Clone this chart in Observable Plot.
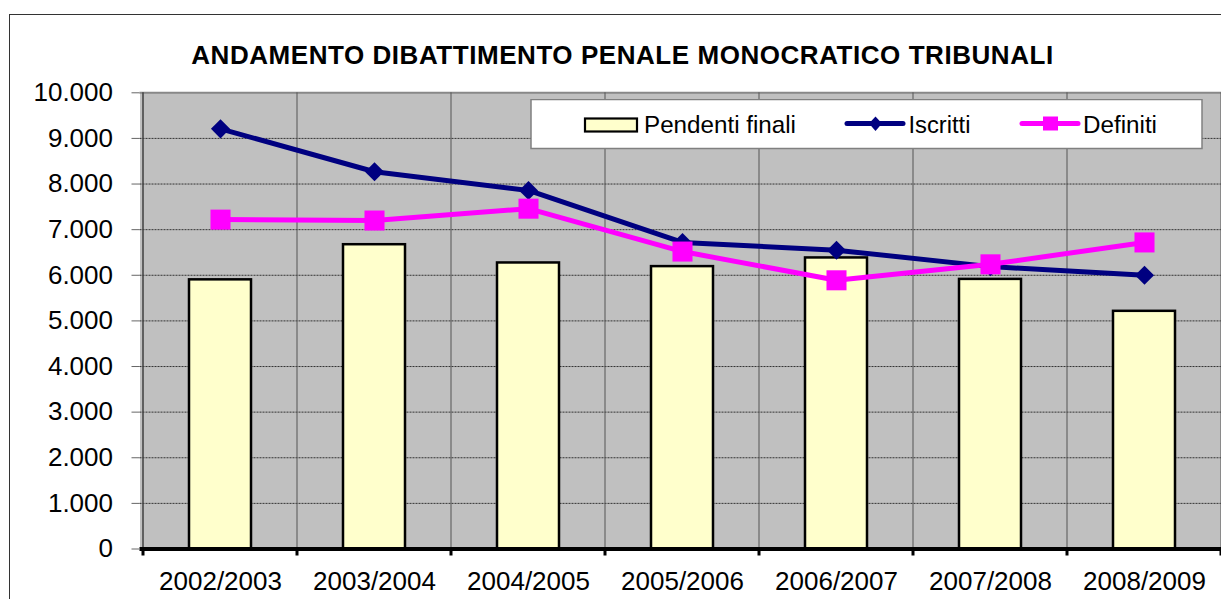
<!DOCTYPE html>
<html>
<head>
<meta charset="utf-8">
<script src="https://cdn.jsdelivr.net/npm/d3@7"></script>
<script src="https://cdn.jsdelivr.net/npm/@observablehq/plot@0.6"></script>
<style>
  html, body { margin: 0; padding: 0; background: #fff; }
  body { width: 1221px; height: 599px; overflow: hidden; position: relative; font-family: "Liberation Sans", Arial, sans-serif; }
  #frame { position: absolute; left: 9px; top: 14px; width: 1300px; height: 700px; border: 1.5px solid #333; box-sizing: border-box; }
  #title { position: absolute; left: 0; top: 42px; width: 1245px; text-align: center; font-weight: bold; font-size: 26px; line-height: 26px; letter-spacing: 0.55px; color: #000; }
  #chart { position: absolute; left: 0; top: 0; width: 1230px; }
  #legend { position: absolute; left: 530px; top: 99px; }
</style>
</head>
<body>
<div id="frame"></div>
<div id="title">ANDAMENTO DIBATTIMENTO PENALE MONOCRATICO TRIBUNALI</div>
<div id="chart"></div>
<svg id="legend" width="673" height="51"></svg>
<script>
// ---- data ----
const categories = ["2002/2003", "2003/2004", "2004/2005", "2005/2006", "2006/2007", "2007/2008", "2008/2009"];
const pendentiFinali = [5900, 6670, 6270, 6190, 6380, 5910, 5210];
const iscritti = [9210, 8270, 7860, 6720, 6550, 6190, 6000];
const definiti = [7220, 7200, 7460, 6520, 5890, 6240, 6720];
const yTicks = [0, 1000, 2000, 3000, 4000, 5000, 6000, 7000, 8000, 9000, 10000];
const seriesNames = ["Pendenti finali", "Iscritti", "Definiti"];

// ---- tables ----
const rows = (vals) => categories.map((c, i) => ({cat: c, value: vals[i]}));
const barData = rows(pendentiFinali);
const iscrittiData = rows(iscritti);
const definitiData = rows(definiti);

const itLocale = d3.formatLocale({decimal: ",", thousands: ".", grouping: [3], currency: ["€", ""]});
const fmt = itLocale.format(",d");

// vertical grid at category boundaries + x tick marks, from the band scale
function boundaries(index, scales, values, dimensions) {
  const s = scales.x;
  const bw = typeof s.bandwidth === "function" ? s.bandwidth() : (s.bandwidth || 0);
  const step = s(categories[1]) - s(categories[0]);
  const xs = categories.map(c => s(c) - (step - bw) / 2);
  xs.push(s(categories[categories.length - 1]) + bw + (step - bw) / 2);
  const y0 = scales.y(0), y1 = scales.y(10000);
  const g = d3.create("svg:g");
  xs.forEach((x, i) => {
    g.append("line").attr("x1", x).attr("x2", x).attr("y1", y1).attr("y2", y0)
      .attr("stroke", i === 0 ? "#404040" : "#555").attr("stroke-width", i === 0 ? 1.5 : 1);
    g.append("line").attr("x1", x).attr("x2", x).attr("y1", y0).attr("y2", y0 + 7)
      .attr("stroke", "#000").attr("stroke-width", 3);
  });
  return g.node();
}

const chart = Plot.plot({
  width: 1230,
  height: 599,
  marginLeft: 139.5,
  marginRight: 6.5,
  marginTop: 92.3,
  marginBottom: 50.5,
  style: {fontFamily: "'Liberation Sans', Arial, sans-serif", fontSize: "26px", background: "transparent", overflow: "visible", color: "#000", maxWidth: "none", width: "1230px", height: "599px"},
  x: {domain: categories, paddingInner: 0.6, paddingOuter: 0.3, label: null},
  y: {domain: [0, 10000], label: null},
  marks: [
    Plot.frame({fill: "#c0c0c0", stroke: null}),
    Plot.ruleY(yTicks.filter(v => v > 0 && v < 10000), {stroke: "#333", strokeDasharray: "2,1", strokeWidth: 1}),
    Plot.ruleY([10000], {stroke: "#888", strokeWidth: 2}),
    boundaries,
    Plot.barY(barData, {x: "cat", y: "value", fill: "#FFFFCC", stroke: "#000", strokeWidth: 2.5}),
    Plot.line(iscrittiData, {x: "cat", y: "value", stroke: "#000080", strokeWidth: 5}),
    Plot.dot(iscrittiData, {x: "cat", y: "value", symbol: "diamond2", r: 8.6, fill: "#000080", stroke: null}),
    Plot.line(definitiData, {x: "cat", y: "value", stroke: "#FF00FF", strokeWidth: 5}),
    Plot.dot(definitiData, {x: "cat", y: "value", symbol: "square", r: 11.3, fill: "#FF00FF", stroke: null}),
    Plot.ruleY([0], {stroke: "#000", strokeWidth: 4}),
    Plot.axisY({ticks: yTicks, tickFormat: fmt, tickSize: 8, tickPadding: 19, stroke: "#666", fill: "#000"}),
    Plot.axisX({tickSize: 0, tickPadding: 23, fill: "#000"})
  ]
});
document.getElementById("chart").appendChild(chart);

// ---- legend ----
const leg = d3.select("#legend");
leg.append("rect").attr("x", 1).attr("y", 0.5).attr("width", 671).attr("height", 49)
  .attr("fill", "#fff").attr("stroke", "#808080").attr("stroke-width", 1.5);
const legText = (x, str, len) => leg.append("text").attr("x", x).attr("y", 34.3)
  .attr("font-family", "'Liberation Sans', Arial, sans-serif").attr("font-size", 24.8)
  .attr("textLength", len).attr("lengthAdjust", "spacingAndGlyphs").attr("fill", "#000").text(str);
leg.append("rect").attr("x", 55).attr("y", 19.5).attr("width", 52).attr("height", 13)
  .attr("fill", "#FFFFCC").attr("stroke", "#000").attr("stroke-width", 2.2);
legText(114, seriesNames[0], 152);
leg.append("line").attr("x1", 317).attr("x2", 373).attr("y1", 24.5).attr("y2", 24.5).attr("stroke", "#000080").attr("stroke-width", 5).attr("stroke-linecap", "round");
leg.append("path").attr("d", "M345.5,17.5 L352,24.5 L345.5,32 L339,24.5 Z").attr("fill", "#000080");
legText(378.5, seriesNames[1], 62);
leg.append("line").attr("x1", 492).attr("x2", 548).attr("y1", 24.5).attr("y2", 24.5).attr("stroke", "#FF00FF").attr("stroke-width", 5).attr("stroke-linecap", "round");
leg.append("rect").attr("x", 513).attr("y", 17.5).attr("width", 15).attr("height", 14).attr("fill", "#FF00FF");
legText(553, seriesNames[2], 74);
</script>
</body>
</html>
